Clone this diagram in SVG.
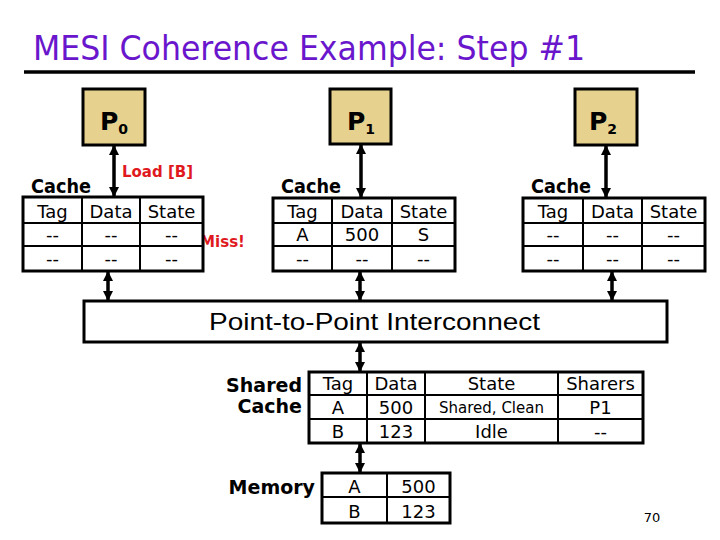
<svg xmlns="http://www.w3.org/2000/svg" width="720" height="540" viewBox="0 0 720 540">
<style>
.t{font-family:"DejaVu Sans","Verdana",sans-serif;font-size:18px;fill:#000;text-anchor:middle}
.b{font-family:"DejaVu Sans","Verdana",sans-serif;font-weight:bold;fill:#000}
.red{font-family:"DejaVu Sans","Verdana",sans-serif;font-weight:bold;fill:#E0191E;font-size:15px}
.proc{fill:#E6D28E;stroke:#000;stroke-width:3}
.outer{fill:#fff;stroke:#000;stroke-width:3}
.grid{stroke:#000;stroke-width:2;fill:none}
.arr{stroke:#000;stroke-width:3.5;fill:none;marker-start:url(#ah);marker-end:url(#ah)}
</style>
<defs>
<marker id="ah" viewBox="0 0 10 10" refX="9" refY="5" markerWidth="10" markerHeight="10" markerUnits="userSpaceOnUse" orient="auto-start-reverse">
<path d="M0,0 L10,5 L0,10 z" fill="#000"/>
</marker>
</defs>
<rect width="720" height="540" fill="#fff"/>
<g id="title">
<text x="33" y="60" font-family="DejaVu Sans, Verdana, sans-serif" font-size="34" fill="#6A16CC" textLength="552" lengthAdjust="spacingAndGlyphs">MESI Coherence Example: Step #1</text>
<line x1="24" y1="72" x2="695" y2="72" stroke="#000" stroke-width="3.5"/>
</g>
<g id="connectors">
<line class="arr" x1="114" y1="146" x2="114" y2="196"/>
<line class="arr" x1="361" y1="145" x2="361" y2="197"/>
<line class="arr" x1="606" y1="146" x2="606" y2="197"/>
<line class="arr" x1="108" y1="272" x2="108" y2="300"/>
<line class="arr" x1="360" y1="272" x2="360" y2="300"/>
<line class="arr" x1="612" y1="272" x2="612" y2="300"/>
<line class="arr" x1="360" y1="343" x2="360" y2="371"/>
<line class="arr" x1="360" y1="444" x2="360" y2="472"/>
</g>
<g id="p0">
<rect class="proc" x="83" y="89" width="62" height="56"/>
<text class="b" x="100" y="130" font-size="25">P<tspan dy="4" font-size="14">0</tspan></text>
</g>
<g id="p1">
<rect class="proc" x="330" y="89" width="61" height="55"/>
<text class="b" x="347" y="130" font-size="25">P<tspan dy="4" font-size="14">1</tspan></text>
</g>
<g id="p2">
<rect class="proc" x="575" y="89" width="62" height="56"/>
<text class="b" x="589" y="130" font-size="25">P<tspan dy="4" font-size="14">2</tspan></text>
</g>
<g id="load-label">
<text class="red" x="122" y="177" textLength="71" lengthAdjust="spacingAndGlyphs">Load [B]</text>
<text class="red" x="200" y="247" textLength="45" lengthAdjust="spacingAndGlyphs">Miss!</text>
</g>
<g id="cache0">
<text class="b" x="31" y="193" font-size="19" textLength="60" lengthAdjust="spacingAndGlyphs">Cache</text>
<rect class="outer" x="23" y="197" width="180" height="74"/>
<path class="grid" d="M23,223H203M23,246H203M82,197V271M140,197V271"/>
<text class="t" x="52.5" y="218">Tag</text><text class="t" x="111" y="218">Data</text><text class="t" x="171.5" y="218">State</text>
<text class="t" x="52.5" y="241">--</text><text class="t" x="111" y="241">--</text><text class="t" x="171.5" y="241">--</text>
<text class="t" x="52.5" y="265">--</text><text class="t" x="111" y="265">--</text><text class="t" x="171.5" y="265">--</text>
</g>
<g id="cache1">
<text class="b" x="281" y="193" font-size="19" textLength="60" lengthAdjust="spacingAndGlyphs">Cache</text>
<rect class="outer" x="273" y="198" width="182" height="73"/>
<path class="grid" d="M273,223H455M273,246H455M332,198V271M392,198V271"/>
<text class="t" x="302.5" y="218">Tag</text><text class="t" x="362" y="218">Data</text><text class="t" x="423.5" y="218">State</text>
<text class="t" x="302.5" y="241">A</text><text class="t" x="362" y="241">500</text><text class="t" x="423.5" y="241">S</text>
<text class="t" x="302.5" y="265">--</text><text class="t" x="362" y="265">--</text><text class="t" x="423.5" y="265">--</text>
</g>
<g id="cache2">
<text class="b" x="531" y="193" font-size="19" textLength="60" lengthAdjust="spacingAndGlyphs">Cache</text>
<rect class="outer" x="523" y="198" width="182" height="73"/>
<path class="grid" d="M523,223H705M523,246H705M583,198V271M642,198V271"/>
<text class="t" x="553" y="218">Tag</text><text class="t" x="612.5" y="218">Data</text><text class="t" x="673.5" y="218">State</text>
<text class="t" x="553" y="241">--</text><text class="t" x="612.5" y="241">--</text><text class="t" x="673.5" y="241">--</text>
<text class="t" x="553" y="265">--</text><text class="t" x="612.5" y="265">--</text><text class="t" x="673.5" y="265">--</text>
</g>
<g id="interconnect">
<rect class="outer" x="84" y="301" width="583" height="41"/>
<text x="374.5" y="330" font-family="Liberation Sans, Arial, sans-serif" font-size="24" text-anchor="middle" textLength="331" lengthAdjust="spacingAndGlyphs">Point-to-Point Interconnect</text>
</g>
<g id="shared-cache">
<text class="b" x="302" y="392" font-size="19" text-anchor="end">Shared</text>
<text class="b" x="302" y="413" font-size="19" text-anchor="end">Cache</text>
<rect class="outer" x="309" y="372" width="334" height="71"/>
<path class="grid" d="M309,395H643M309,419H643M367,372V443M425,372V443M558,372V443"/>
<text class="t" x="338" y="390">Tag</text><text class="t" x="396" y="390">Data</text><text class="t" x="491.5" y="390">State</text><text class="t" x="600.5" y="390">Sharers</text>
<text class="t" x="338" y="414">A</text><text class="t" x="396" y="414">500</text><text class="t" x="491.5" y="413" style="font-size:15px">Shared, Clean</text><text class="t" x="600.5" y="414">P1</text>
<text class="t" x="338" y="438">B</text><text class="t" x="396" y="438">123</text><text class="t" x="491.5" y="438">Idle</text><text class="t" x="600.5" y="438">--</text>
</g>
<g id="memory">
<text class="b" x="315" y="494" font-size="19" text-anchor="end">Memory</text>
<rect class="outer" x="322" y="473" width="128" height="50"/>
<path class="grid" d="M322,497H450M387,473V523"/>
<text class="t" x="354.5" y="493">A</text><text class="t" x="418.5" y="493">500</text>
<text class="t" x="354.5" y="518">B</text><text class="t" x="418.5" y="518">123</text>
</g>
<text x="652" y="522" font-family="DejaVu Sans, Verdana, sans-serif" font-size="13" text-anchor="middle">70</text>
</svg>
